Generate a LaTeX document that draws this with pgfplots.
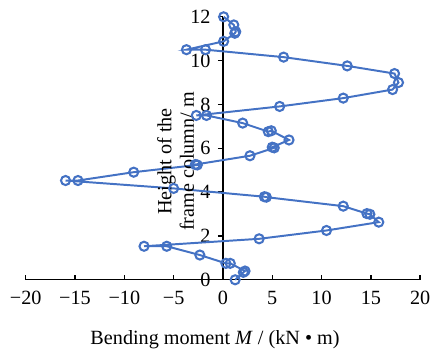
\documentclass[border=0pt]{standalone}
\usepackage{pgfplots}
\pgfplotsset{compat=1.18}
\usepackage{fontspec}
\setmainfont{Liberation Serif}
\definecolor{myblue}{HTML}{4472C4}
\begin{document}
\fontsize{20.5}{24}\selectfont
\begin{tikzpicture}
\begin{axis}[
  scale only axis,
  width=399bp, height=266bp,
  xmin=-20, xmax=20, ymin=0, ymax=12,
  axis lines=middle,
  axis line style={line width=1.4pt, -},
  hide obscured x ticks=false,
  hide obscured y ticks=false,
  xtick={-20,-15,...,20},
  xticklabels={−20,−15,−10,−5,0,5,10,15,20},
  ytick={0,2,...,12},
  yticklabels={0,2,4,6,8,10,12},
  tick align=center,
  major tick length=5bp,
  x tick style={black, line width=1.4pt, yshift=2.5bp},
  y tick style={black, line width=1.4pt, xshift=-2.5bp},
  x tick label style={font=\fontsize{20.5}{24}\selectfont, yshift=-2bp},
  y tick label style={font=\fontsize{20.5}{24}\selectfont, xshift=-3bp},
  clip=false,
]
\addplot[color=myblue, line width=2pt, mark=o, mark size=4.6bp, mark options={line width=2.1pt}] coordinates {
(1.24,0)
(2.07,0.34)
(2.24,0.40)
(0.74,0.75)
(0.3,0.75)
(-2.34,1.13)
(-5.7,1.53)
(-8.0,1.53)
(3.67,1.87)
(10.5,2.25)
(15.8,2.63)
(14.9,2.99)
(14.6,3.02)
(12.2,3.36)
(4.4,3.77)
(4.2,3.79)
(-5.0,4.17)
(-15.96,4.53)
(-14.7,4.53)
(-9.05,4.91)
(-2.6,5.24)
(-2.8,5.26)
(2.74,5.66)
(5.2,6.02)
(5.0,6.05)
(6.7,6.38)
(4.9,6.80)
(4.6,6.76)
(2.0,7.15)
(-1.67,7.5)
(-2.7,7.5)
(5.75,7.91)
(12.2,8.29)
(17.2,8.68)
(17.8,9.0)
(17.4,9.41)
(12.6,9.76)
(6.15,10.16)
(-1.77,10.5)
(-3.7,10.5)
(0.07,10.88)
(1.2,11.25)
(1.3,11.32)
(1.1,11.63)
(0.07,12.0)
};
\node[rotate=90, align=center, font=\fontsize{20.5}{23}\selectfont] at (axis cs:-4.8,5.4) {Height of the\\frame column/ m};
\node[font=\fontsize{20.5}{24}\selectfont] at (axis cs:-0.8,0) [yshift=-61bp] {Bending moment \textit{M} / (kN • m)};
\end{axis}
\path (-26bp,-67bp) rectangle (411bp,283bp);
\end{tikzpicture}
\end{document}
